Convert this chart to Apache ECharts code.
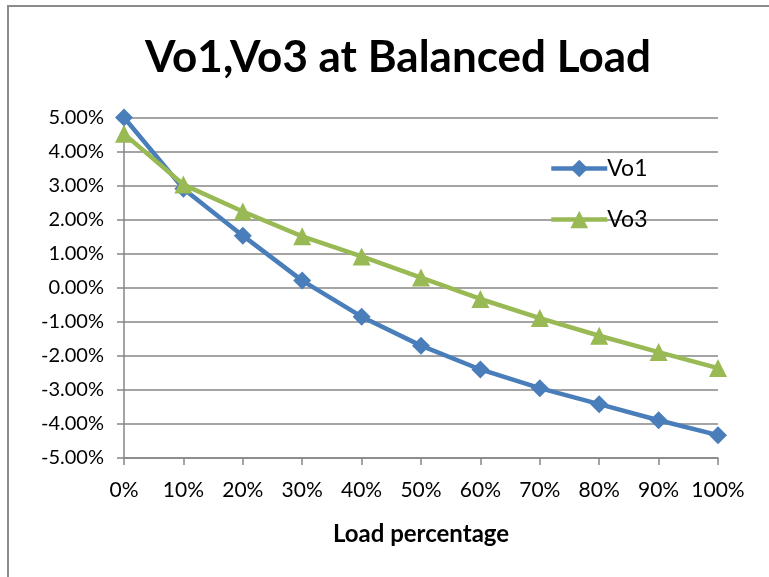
<!DOCTYPE html>
<html>
<head>
<meta charset="utf-8">
<script src="https://cdn.jsdelivr.net/npm/echarts@6/dist/echarts.min.js"></script>
<style>
  html, body { margin: 0; padding: 0; background: #fff; }
  #chart { width: 769px; height: 577px; }
</style>
</head>
<body>
<div id="chart"></div>
<script>
  // load steps on the x axis
  var categories = ['0%', '10%', '20%', '30%', '40%', '50%', '60%', '70%', '80%', '90%', '100%'];
  // deviation in percent
  var vo1 = [5.00, 2.91, 1.53, 0.21, -0.85, -1.70, -2.40, -2.95, -3.42, -3.89, -4.33];
  var vo3 = [4.52, 3.03, 2.24, 1.51, 0.92, 0.30, -0.33, -0.89, -1.41, -1.89, -2.36];
  var yMin = -5, yMax = 5, yStep = 1;

  var font = 'Lato';
  var chart = echarts.init(document.getElementById('chart'));

  var option = {
    backgroundColor: '#ffffff',
    animation: false,
    title: {
      text: 'Vo1,Vo3 at Balanced Load',
      left: 393,
      top: 31,
      textAlign: 'center',
      textStyle: { fontFamily: font, fontWeight: 'bold', fontSize: 44, color: '#000' }
    },
    legend: {
      orient: 'vertical',
      left: 544,
      top: 152,
      itemWidth: 56,
      itemHeight: 22,
      itemGap: 28,
      textStyle: { fontFamily: font, fontSize: 23, color: '#000', padding: [0, 0, 0, -5] },
      data: [
        { name: 'Vo1', lineStyle: { width: 4.5 } },
        { name: 'Vo3', lineStyle: { width: 4.5 } }
      ]
    },
    grid: { left: 124, right: 51, top: 117.5, bottom: 119 },
    xAxis: {
      type: 'category',
      data: categories,
      boundaryGap: false,
      name: 'Load percentage',
      nameLocation: 'middle',
      nameGap: 64,
      nameTextStyle: { fontFamily: font, fontWeight: 'bold', fontSize: 24, color: '#000' },
      axisLine: { onZero: false, lineStyle: { color: '#868686', width: 1.5 } },
      axisTick: { show: true, interval: 0, length: 7, lineStyle: { color: '#868686', width: 1.5 } },
      axisLabel: { interval: 0, fontFamily: font, fontSize: 21, color: '#000', margin: 22 },
      splitLine: { show: false }
    },
    yAxis: {
      type: 'value',
      min: yMin,
      max: yMax,
      interval: yStep,
      axisLine: { show: true, lineStyle: { color: '#868686', width: 1.5 } },
      axisTick: { show: true, length: 7, lineStyle: { color: '#868686', width: 1.5 } },
      axisLabel: {
        fontFamily: font, fontSize: 20, color: '#000', margin: 20,
        formatter: function (v) { return v.toFixed(2) + '%'; }
      },
      splitLine: { show: true, lineStyle: { color: '#868686', width: 1.5 } }
    },
    graphic: [
      {
        type: 'rect',
        shape: { x: 8, y: 6, width: 790, height: 620 },
        style: { fill: 'none', stroke: '#8c8c8c', lineWidth: 2 },
        z: 100
      }
    ],
    series: [
      {
        name: 'Vo1',
        type: 'line',
        data: vo1,
        symbol: 'diamond',
        symbolSize: 18,
        lineStyle: { color: '#4a7ebb', width: 4.5 },
        itemStyle: { color: '#4a7ebb' },
        z: 2
      },
      {
        name: 'Vo3',
        type: 'line',
        data: vo3,
        symbol: 'triangle',
        symbolSize: 18,
        lineStyle: { color: '#98b954', width: 4.5 },
        itemStyle: { color: '#98b954' },
        z: 3
      }
    ]
  };

  chart.setOption(option);
</script>
</body>
</html>
